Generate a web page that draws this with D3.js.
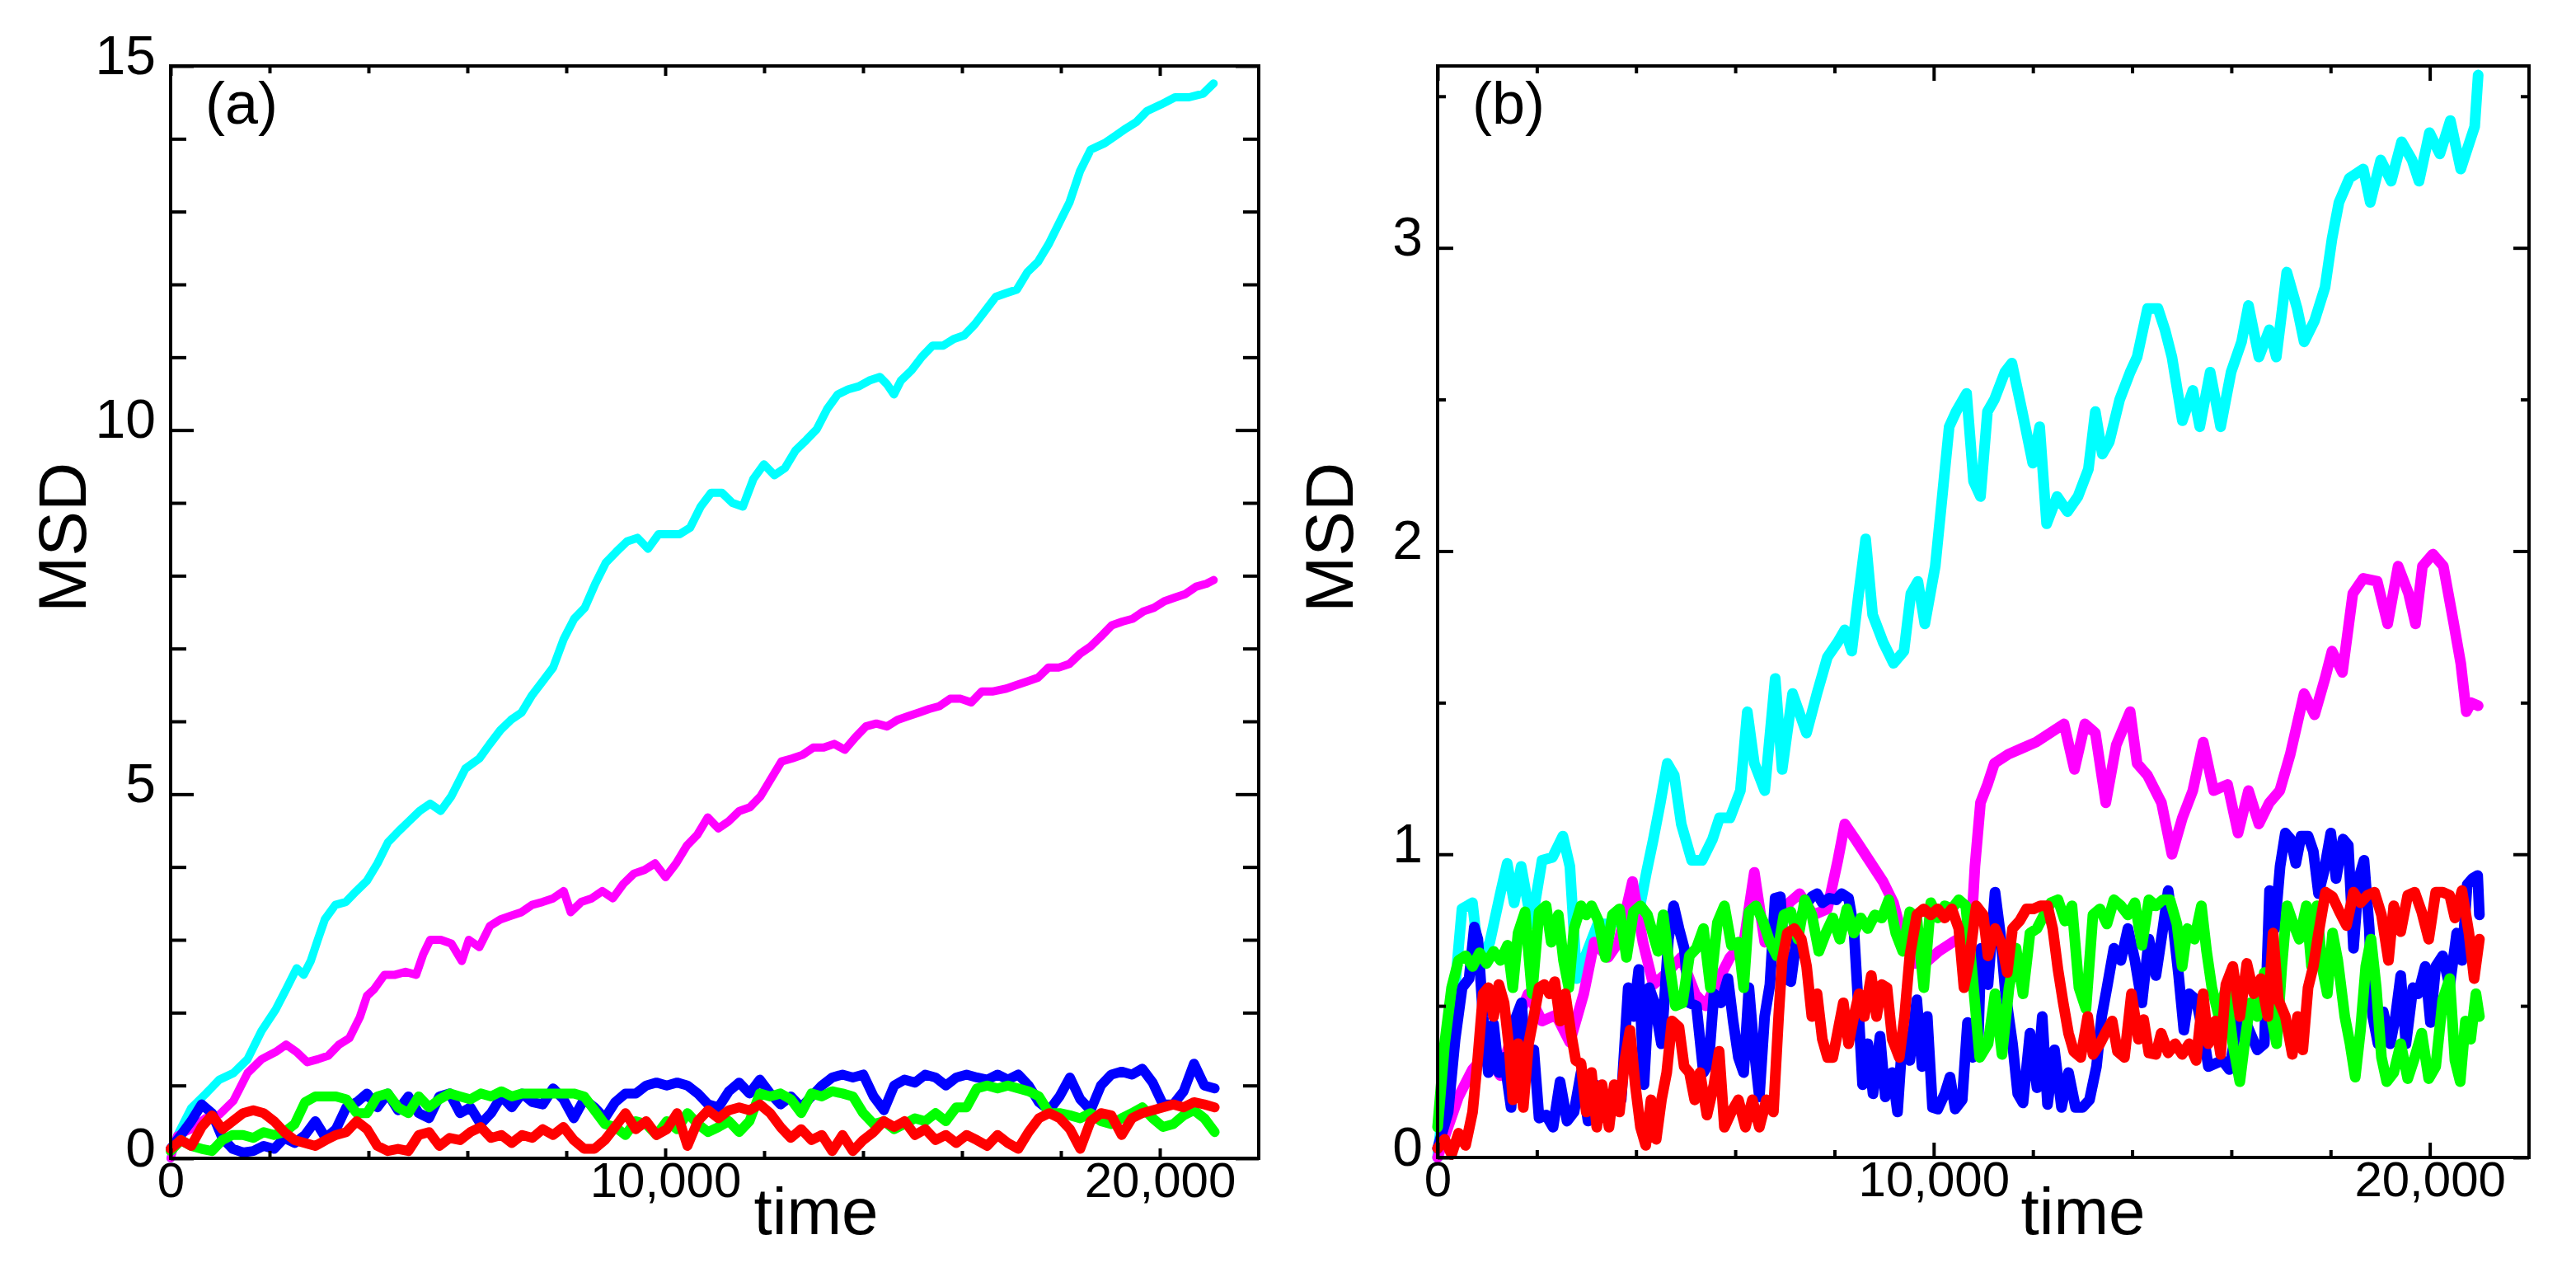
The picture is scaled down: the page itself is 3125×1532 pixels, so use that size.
<!DOCTYPE html>
<html><head><meta charset="utf-8">
<script src="https://cdn.jsdelivr.net/npm/d3@7"></script>
<style>html,body{margin:0;padding:0;background:#fff;} svg{display:block;}</style>
</head><body>
<svg id="chart" width="3125" height="1532"></svg>
<script>
// ---------------- DATA ----------------
const timeMax = 22000;
const timeTickLabels = [0, 10000, 20000];
const timeMinorTicks = [2000, 4000, 6000, 8000, 12000, 14000, 16000, 18000];
const msdTicksA = [0, 5, 10, 15];
const msdMinorA = [1, 2, 3, 4, 6, 7, 8, 9, 11, 12, 13, 14];
const msdTicksB = [0, 1, 2, 3];
const msdMinorB = [0.5, 1.5, 2.5, 3.5];
const panelLabels = ["(a)", "(b)"];
const xTitle = "time";
const yTitle = "MSD";
const seriesColors = ["#00ffff", "#ff00ff", "#0000ff", "#00ff00", "#ff0000"];

// panel (a): [time, MSD]
const aCyan = [[0,0],[133,0.31],[417,0.69],[701,0.88],[986,1.08],[1270,1.17],[1554,1.36],[1838,1.75],[2122,2.04],[2335,2.32],[2548,2.61],[2690,2.52],[2833,2.71],[2975,3.00],[3117,3.28],[3330,3.48],[3543,3.52],[3756,3.67],[3969,3.81],[4182,4.05],[4395,4.34],[4608,4.49],[4821,4.63],[5035,4.77],[5248,4.87],[5461,4.77],[5674,4.97],[5958,5.35],[6242,5.49],[6455,5.69],[6668,5.88],[6881,6.02],[7095,6.12],[7308,6.36],[7521,6.55],[7734,6.74],[7947,7.13],[8160,7.41],[8373,7.56],[8586,7.89],[8799,8.18],[9013,8.33],[9226,8.47],[9439,8.52],[9652,8.37],[9865,8.57],[10078,8.57],[10291,8.57],[10504,8.66],[10717,8.95],[10930,9.14],[11144,9.14],[11357,9.00],[11570,8.95],[11783,9.33],[11996,9.53],[12209,9.38],[12422,9.48],[12635,9.72],[12848,9.86],[13062,10.01],[13275,10.29],[13488,10.49],[13701,10.56],[13914,10.60],[14127,10.68],[14340,10.73],[14482,10.63],[14624,10.49],[14766,10.68],[14979,10.82],[15193,11.01],[15406,11.16],[15619,11.16],[15832,11.25],[16045,11.30],[16258,11.45],[16471,11.64],[16684,11.83],[16897,11.88],[17111,11.93],[17324,12.17],[17537,12.31],[17750,12.55],[17963,12.84],[18176,13.13],[18389,13.56],[18602,13.85],[18886,13.94],[19099,14.04],[19313,14.14],[19526,14.23],[19739,14.38],[20023,14.47],[20307,14.57],[20591,14.57],[20875,14.62],[21088,14.76]];
const aMagenta = [[0,0],[133,0.31],[417,0.40],[701,0.55],[986,0.60],[1270,0.79],[1554,1.17],[1838,1.36],[2122,1.46],[2335,1.56],[2548,1.46],[2761,1.32],[2975,1.36],[3188,1.41],[3401,1.56],[3614,1.65],[3827,1.94],[3969,2.23],[4111,2.32],[4324,2.52],[4537,2.52],[4750,2.56],[4964,2.52],[5106,2.80],[5248,3.00],[5461,3.00],[5674,2.95],[5887,2.71],[6029,3.00],[6242,2.90],[6455,3.19],[6668,3.28],[6881,3.33],[7095,3.38],[7308,3.48],[7521,3.52],[7734,3.57],[7947,3.67],[8089,3.38],[8302,3.52],[8515,3.57],[8728,3.67],[8941,3.57],[9155,3.77],[9368,3.91],[9581,3.96],[9794,4.05],[10007,3.86],[10220,4.05],[10433,4.29],[10646,4.44],[10859,4.68],[11073,4.53],[11286,4.63],[11499,4.77],[11712,4.82],[11925,4.97],[12138,5.21],[12351,5.45],[12564,5.49],[12777,5.54],[12991,5.64],[13204,5.64],[13417,5.69],[13630,5.61],[13843,5.78],[14056,5.93],[14269,5.97],[14482,5.93],[14695,6.02],[14909,6.07],[15122,6.12],[15335,6.17],[15548,6.21],[15761,6.31],[15974,6.31],[16187,6.26],[16400,6.41],[16613,6.41],[16897,6.45],[17111,6.50],[17324,6.55],[17537,6.60],[17750,6.74],[17963,6.74],[18176,6.79],[18389,6.93],[18602,7.03],[18815,7.17],[19029,7.32],[19242,7.37],[19455,7.41],[19668,7.51],[19881,7.56],[20094,7.65],[20307,7.70],[20520,7.75],[20733,7.85],[20946,7.89],[21088,7.94]];
// panel (a) low series, sampled at a regular interval
const aSampleStep = 209;
const aBlue = [0.13,0.32,0.51,0.74,0.62,0.28,0.13,0.08,0.10,0.17,0.13,0.28,0.21,0.32,0.51,0.28,0.40,0.70,0.77,0.89,0.70,0.89,0.66,0.85,0.62,0.55,0.85,0.89,0.62,0.70,0.47,0.62,0.85,0.70,0.89,0.77,0.74,0.96,0.81,0.55,0.81,0.70,0.55,0.77,0.89,0.89,1.00,1.04,1.00,1.04,1.00,0.89,0.74,0.70,0.92,1.04,0.89,1.08,0.89,0.74,0.85,0.70,0.85,1.00,1.11,1.15,1.11,1.15,0.85,0.66,1.00,1.08,1.04,1.15,1.11,1.00,1.11,1.15,1.11,1.08,1.15,1.08,1.15,1.00,0.77,0.66,0.85,1.11,0.81,0.66,1.00,1.15,1.19,1.15,1.23,1.04,0.74,0.74,0.92,1.30,1.00,0.96];
const aGreen = [0.10,0.25,0.17,0.13,0.10,0.25,0.32,0.32,0.28,0.36,0.32,0.36,0.47,0.77,0.85,0.85,0.85,0.81,0.62,0.62,0.85,0.89,0.70,0.62,0.85,0.70,0.81,0.89,0.85,0.81,0.89,0.85,0.92,0.85,0.89,0.89,0.89,0.89,0.89,0.89,0.85,0.66,0.47,0.43,0.32,0.51,0.47,0.32,0.51,0.40,0.62,0.47,0.36,0.43,0.51,0.36,0.51,0.89,0.85,0.89,0.81,0.62,0.89,0.85,0.92,0.89,0.85,0.62,0.47,0.51,0.40,0.47,0.55,0.51,0.62,0.51,0.70,0.70,0.96,1.00,0.96,1.00,0.96,0.92,0.85,0.62,0.62,0.59,0.55,0.62,0.51,0.47,0.55,0.62,0.70,0.55,0.43,0.47,0.59,0.66,0.55,0.36];
const aRed = [0.13,0.25,0.17,0.43,0.59,0.40,0.51,0.62,0.66,0.62,0.51,0.36,0.25,0.21,0.17,0.25,0.32,0.36,0.51,0.40,0.17,0.10,0.13,0.10,0.32,0.36,0.17,0.28,0.25,0.36,0.43,0.28,0.32,0.21,0.32,0.28,0.40,0.32,0.43,0.25,0.13,0.13,0.25,0.43,0.62,0.40,0.51,0.32,0.40,0.62,0.17,0.51,0.66,0.55,0.66,0.70,0.66,0.74,0.62,0.43,0.28,0.40,0.25,0.32,0.10,0.32,0.10,0.25,0.36,0.51,0.43,0.51,0.32,0.40,0.25,0.32,0.21,0.32,0.25,0.17,0.32,0.21,0.13,0.36,0.55,0.62,0.55,0.40,0.13,0.51,0.62,0.59,0.32,0.55,0.62,0.66,0.70,0.74,0.70,0.77,0.74,0.70];

// panel (b): [time, MSD]
const bCyan = [[0,0],[281,0.43],[491,0.82],[702,0.84],[842,0.64],[1052,0.71],[1263,0.87],[1403,0.97],[1543,0.84],[1684,0.96],[1894,0.77],[2105,0.98],[2315,0.99],[2525,1.06],[2666,0.96],[2806,0.59],[3016,0.68],[3227,0.77],[3508,0.77],[3788,0.80],[4069,0.82],[4209,0.94],[4349,1.05],[4490,1.17],[4630,1.30],[4770,1.26],[4911,1.10],[5121,0.98],[5331,0.98],[5542,1.05],[5682,1.12],[5893,1.12],[6103,1.21],[6243,1.47],[6384,1.30],[6594,1.21],[6805,1.58],[6945,1.28],[7155,1.53],[7436,1.40],[7646,1.53],[7857,1.65],[8067,1.70],[8208,1.74],[8348,1.67],[8488,1.86],[8628,2.04],[8769,1.79],[8979,1.70],[9190,1.63],[9400,1.67],[9540,1.86],[9681,1.90],[9821,1.76],[10031,1.95],[10172,2.18],[10312,2.41],[10452,2.46],[10663,2.52],[10803,2.23],[10943,2.18],[11084,2.46],[11224,2.50],[11434,2.59],[11575,2.62],[11785,2.46],[11996,2.29],[12136,2.41],[12276,2.09],[12487,2.18],[12697,2.13],[12908,2.18],[13118,2.27],[13258,2.46],[13399,2.32],[13539,2.36],[13749,2.50],[13960,2.59],[14100,2.64],[14311,2.80],[14521,2.80],[14661,2.73],[14802,2.64],[15012,2.43],[15223,2.53],[15363,2.41],[15573,2.59],[15784,2.41],[15994,2.59],[16205,2.69],[16345,2.81],[16555,2.64],[16766,2.73],[16906,2.64],[17117,2.92],[17327,2.80],[17467,2.69],[17678,2.76],[17888,2.87],[18029,3.03],[18169,3.15],[18379,3.23],[18660,3.26],[18800,3.15],[19011,3.29],[19221,3.22],[19432,3.35],[19642,3.29],[19782,3.22],[19993,3.38],[20203,3.31],[20414,3.42],[20624,3.26],[20764,3.33],[20905,3.40],[20975,3.57]];
const bMagenta = [[0,0],[421,0.20],[702,0.29],[982,0.34],[1263,0.27],[1543,0.43],[1824,0.54],[2105,0.45],[2385,0.47],[2666,0.38],[2946,0.54],[3157,0.71],[3437,0.66],[3648,0.71],[3928,0.91],[4139,0.71],[4349,0.57],[4630,0.61],[4911,0.66],[5191,0.54],[5402,0.50],[5612,0.57],[5893,0.66],[6173,0.71],[6384,0.94],[6594,0.71],[6875,0.75],[7085,0.84],[7296,0.87],[7576,0.80],[7857,0.82],[8067,0.98],[8208,1.10],[8418,1.05],[8699,0.98],[8979,0.91],[9190,0.84],[9400,0.71],[9611,0.64],[9821,0.64],[10102,0.68],[10382,0.71],[10593,0.73],[10775,0.80],[10831,0.96],[10943,1.17],[11084,1.23],[11224,1.30],[11505,1.33],[11785,1.35],[12066,1.37],[12346,1.40],[12627,1.43],[12837,1.28],[13048,1.43],[13258,1.40],[13469,1.17],[13679,1.36],[13960,1.47],[14100,1.30],[14311,1.26],[14591,1.17],[14802,1.00],[15012,1.12],[15223,1.21],[15433,1.37],[15643,1.21],[15924,1.23],[16135,1.07],[16345,1.21],[16555,1.10],[16766,1.17],[16976,1.21],[17187,1.33],[17467,1.53],[17678,1.46],[17888,1.58],[18029,1.67],[18239,1.60],[18449,1.86],[18660,1.91],[18941,1.90],[19151,1.76],[19361,1.95],[19572,1.86],[19712,1.76],[19852,1.95],[20063,1.99],[20273,1.95],[20484,1.76],[20624,1.63],[20736,1.47],[20835,1.50],[20975,1.49]];
const bBlue = [[0,0.03],[212,0.15],[353,0.39],[494,0.56],[635,0.59],[740,0.76],[811,0.72],[917,0.465],[1022,0.28],[1128,0.44],[1234,0.28],[1340,0.33],[1481,0.165],[1586,0.465],[1692,0.51],[1798,0.28],[1939,0.355],[2045,0.13],[2186,0.14],[2327,0.10],[2468,0.25],[2609,0.12],[2750,0.15],[2891,0.28],[3032,0.12],[3173,0.24],[3314,0.14],[3525,0.19],[3701,0.19],[3842,0.56],[3948,0.465],[4054,0.62],[4160,0.24],[4265,0.56],[4371,0.51],[4512,0.375],[4653,0.72],[4759,0.83],[4865,0.755],[4970,0.69],[5076,0.51],[5217,0.50],[5358,0.28],[5464,0.31],[5570,0.54],[5711,0.51],[5852,0.59],[5957,0.45],[6063,0.33],[6169,0.28],[6275,0.56],[6380,0.355],[6486,0.20],[6592,0.465],[6698,0.57],[6803,0.855],[6909,0.86],[7015,0.59],[7121,0.58],[7262,0.755],[7403,0.83],[7544,0.86],[7649,0.87],[7755,0.84],[7896,0.855],[8037,0.85],[8143,0.87],[8284,0.855],[8390,0.755],[8460,0.56],[8566,0.24],[8672,0.375],[8777,0.21],[8918,0.40],[9024,0.20],[9165,0.28],[9271,0.15],[9377,0.41],[9518,0.32],[9659,0.52],[9764,0.30],[9870,0.465],[9976,0.165],[10082,0.16],[10223,0.21],[10328,0.265],[10434,0.16],[10575,0.19],[10681,0.445],[10787,0.33],[10892,0.355],[10954,0.69],[11095,0.57],[11236,0.875],[11342,0.74],[11448,0.54],[11589,0.375],[11694,0.21],[11800,0.18],[11941,0.41],[12082,0.23],[12188,0.465],[12294,0.175],[12435,0.355],[12576,0.165],[12717,0.28],[12858,0.165],[12999,0.165],[13140,0.19],[13281,0.30],[13386,0.465],[13492,0.56],[13633,0.69],[13774,0.65],[13915,0.755],[14056,0.65],[14197,0.51],[14338,0.72],[14479,0.60],[14620,0.755],[14726,0.88],[14832,0.755],[14937,0.60],[15043,0.42],[15149,0.54],[15290,0.52],[15431,0.41],[15537,0.30],[15678,0.31],[15819,0.32],[15960,0.29],[16065,0.39],[16206,0.48],[16383,0.41],[16524,0.355],[16665,0.375],[16770,0.88],[16876,0.755],[16982,0.96],[17088,1.07],[17193,1.05],[17299,0.97],[17405,1.06],[17546,1.06],[17652,1.01],[17757,0.87],[17863,0.94],[18004,1.07],[18110,0.92],[18251,1.05],[18357,1.03],[18462,0.69],[18568,0.92],[18674,0.98],[18780,0.755],[18850,0.465],[18956,0.375],[19062,0.48],[19203,0.375],[19308,0.465],[19414,0.60],[19519,0.375],[19660,0.56],[19767,0.54],[19907,0.63],[20013,0.445],[20119,0.63],[20260,0.665],[20401,0.565],[20542,0.74],[20648,0.65],[20754,0.90],[20859,0.92],[20965,0.93],[21000,0.80]];
const bGreen = [[0,0.10],[141,0.375],[282,0.56],[423,0.65],[564,0.665],[705,0.63],[846,0.675],[987,0.64],[1128,0.68],[1269,0.65],[1410,0.70],[1516,0.56],[1622,0.74],[1763,0.81],[1904,0.54],[2045,0.81],[2186,0.83],[2291,0.71],[2432,0.80],[2538,0.65],[2644,0.56],[2750,0.755],[2891,0.83],[2996,0.80],[3102,0.83],[3243,0.78],[3384,0.66],[3525,0.80],[3666,0.82],[3807,0.66],[3948,0.81],[4089,0.83],[4230,0.80],[4336,0.74],[4442,0.68],[4547,0.80],[4653,0.66],[4794,0.50],[4935,0.51],[5076,0.665],[5217,0.69],[5358,0.755],[5499,0.56],[5640,0.775],[5781,0.83],[5922,0.70],[6063,0.71],[6169,0.56],[6275,0.81],[6416,0.83],[6557,0.78],[6698,0.71],[6839,0.665],[6980,0.80],[7121,0.81],[7262,0.72],[7403,0.85],[7544,0.80],[7685,0.68],[7826,0.74],[7967,0.79],[8108,0.72],[8249,0.82],[8390,0.74],[8531,0.79],[8672,0.755],[8813,0.80],[8954,0.79],[9095,0.85],[9236,0.74],[9377,0.68],[9518,0.81],[9659,0.79],[9800,0.56],[9941,0.84],[10082,0.79],[10223,0.83],[10364,0.82],[10505,0.85],[10646,0.83],[10787,0.59],[10928,0.33],[11095,0.375],[11236,0.54],[11377,0.34],[11518,0.56],[11659,0.69],[11800,0.54],[11941,0.74],[12082,0.755],[12223,0.80],[12364,0.84],[12505,0.85],[12646,0.78],[12787,0.83],[12928,0.56],[13069,0.49],[13210,0.80],[13351,0.82],[13492,0.77],[13633,0.85],[13774,0.83],[13915,0.80],[14056,0.84],[14197,0.70],[14338,0.85],[14479,0.83],[14620,0.85],[14761,0.85],[14902,0.77],[15008,0.63],[15114,0.755],[15255,0.72],[15396,0.83],[15501,0.68],[15607,0.56],[15748,0.465],[15889,0.56],[16030,0.375],[16171,0.25],[16277,0.39],[16383,0.51],[16524,0.465],[16665,0.61],[16806,0.465],[16911,0.375],[17017,0.63],[17123,0.83],[17229,0.78],[17370,0.72],[17511,0.83],[17616,0.63],[17722,0.83],[17828,0.63],[17934,0.54],[18040,0.74],[18145,0.65],[18286,0.465],[18392,0.375],[18497,0.265],[18603,0.42],[18709,0.63],[18815,0.72],[18921,0.56],[19026,0.33],[19132,0.25],[19273,0.28],[19414,0.375],[19555,0.26],[19696,0.33],[19837,0.41],[19978,0.26],[20119,0.30],[20260,0.52],[20401,0.59],[20507,0.32],[20613,0.25],[20718,0.45],[20824,0.39],[20930,0.54],[21000,0.465]];
const bRed = [[0,0.03],[141,0.06],[282,0.01],[423,0.08],[564,0.04],[705,0.15],[811,0.33],[917,0.54],[1022,0.56],[1128,0.465],[1234,0.57],[1340,0.51],[1445,0.355],[1516,0.19],[1622,0.375],[1727,0.165],[1833,0.375],[1939,0.465],[2045,0.56],[2150,0.57],[2256,0.54],[2362,0.58],[2468,0.45],[2573,0.54],[2679,0.42],[2785,0.32],[2891,0.31],[2996,0.15],[3102,0.28],[3208,0.10],[3314,0.24],[3455,0.10],[3560,0.24],[3666,0.15],[3772,0.32],[3878,0.42],[3983,0.24],[4089,0.10],[4195,0.04],[4301,0.19],[4406,0.06],[4512,0.19],[4618,0.28],[4724,0.45],[4865,0.43],[4970,0.30],[5076,0.28],[5182,0.19],[5288,0.28],[5429,0.14],[5570,0.24],[5675,0.35],[5781,0.10],[5922,0.15],[6063,0.19],[6204,0.10],[6345,0.19],[6486,0.10],[6627,0.19],[6768,0.15],[6874,0.465],[6944,0.65],[7050,0.74],[7191,0.755],[7332,0.72],[7438,0.63],[7544,0.465],[7649,0.54],[7755,0.39],[7861,0.33],[7967,0.33],[8072,0.42],[8178,0.51],[8284,0.375],[8390,0.465],[8495,0.54],[8601,0.465],[8742,0.60],[8848,0.465],[8954,0.57],[9059,0.56],[9165,0.39],[9306,0.33],[9412,0.465],[9518,0.665],[9659,0.80],[9800,0.82],[9941,0.80],[10082,0.82],[10223,0.79],[10364,0.82],[10505,0.755],[10610,0.56],[10716,0.65],[10857,0.83],[10998,0.80],[11095,0.665],[11236,0.755],[11377,0.70],[11483,0.61],[11589,0.755],[11730,0.78],[11871,0.82],[12012,0.82],[12153,0.83],[12294,0.83],[12399,0.755],[12505,0.62],[12611,0.51],[12717,0.41],[12822,0.35],[12963,0.33],[13104,0.465],[13210,0.34],[13351,0.375],[13492,0.42],[13598,0.45],[13704,0.35],[13845,0.33],[13986,0.54],[14127,0.39],[14232,0.455],[14338,0.345],[14479,0.34],[14585,0.41],[14726,0.345],[14867,0.375],[15008,0.34],[15149,0.375],[15290,0.32],[15431,0.54],[15537,0.375],[15678,0.45],[15783,0.34],[15889,0.57],[16030,0.63],[16171,0.465],[16312,0.64],[16453,0.54],[16594,0.59],[16735,0.465],[16841,0.74],[16947,0.52],[17088,0.465],[17229,0.34],[17334,0.465],[17440,0.355],[17546,0.56],[17652,0.63],[17757,0.74],[17898,0.875],[18039,0.86],[18180,0.81],[18321,0.765],[18462,0.875],[18603,0.84],[18744,0.865],[18885,0.875],[19026,0.80],[19167,0.65],[19273,0.83],[19414,0.745],[19555,0.865],[19696,0.875],[19837,0.81],[19978,0.72],[20119,0.875],[20260,0.875],[20401,0.865],[20507,0.79],[20648,0.88],[20789,0.74],[20894,0.59],[21000,0.72]];

// ---------------- DRAWING ----------------
const svg = d3.select('#chart');
svg.append('rect').attr('width', 3125).attr('height', 1532).attr('fill', '#fff');
const FONT = '"Liberation Sans", Arial, Helvetica, sans-serif';

const toPairs = (vals, step) => vals.map((v, i) => [i * step, v]);

const panels = [
  { label: panelLabels[0], left: 207, right: 1527, top: 80, bottom: 1405, yMax: 15,
    yTicks: msdTicksA, yMinor: msdMinorA, yMajLen: 28, yMinLen: 19, xMajLen: 12, xMinLen: 9,
    series: [aCyan, aMagenta, toPairs(aBlue, aSampleStep), toPairs(aGreen, aSampleStep), toPairs(aRed, aSampleStep)],
    widths: [10, 10, 12, 12, 12] },
  { label: panelLabels[1], left: 1744, right: 3068, top: 80, bottom: 1404, yMax: 3.6,
    yTicks: msdTicksB, yMinor: msdMinorB, yMajLen: 19, yMinLen: 10, xMajLen: 18, xMinLen: 9,
    series: [bCyan, bMagenta, bBlue, bGreen, bRed],
    widths: [13, 13, 13, 13, 13] }
];

function styleAxis(sel, fs) {
  sel.select('.domain').remove();
  sel.attr('font-family', FONT).attr('font-size', fs);
  sel.selectAll('line').attr('stroke', '#000').attr('stroke-width', 4);
  sel.selectAll('text').attr('fill', '#000');
}

panels.forEach(p => {
  const g = svg.append('g');
  const x = d3.scaleLinear().domain([0, timeMax]).range([p.left, p.right]);
  const y = d3.scaleLinear().domain([0, p.yMax]).range([p.bottom, p.top]);
  const line = d3.line().x(d => x(d[0])).y(d => y(d[1]));

  p.series.forEach((s, i) => {
    g.append('path').datum(s).attr('d', line)
      .attr('fill', 'none').attr('stroke', seriesColors[i])
      .attr('stroke-width', p.widths[i])
      .attr('stroke-linejoin', 'round').attr('stroke-linecap', 'round');
  });

  // frame
  g.append('rect').attr('x', p.left).attr('y', p.top)
    .attr('width', p.right - p.left).attr('height', p.bottom - p.top)
    .attr('fill', 'none').attr('stroke', '#000').attr('stroke-width', 4);

  // bottom axis
  const gb = g.append('g').attr('transform', `translate(0,${p.bottom})`);
  gb.call(d3.axisBottom(x).tickValues(timeTickLabels).tickSizeInner(-p.xMajLen).tickSizeOuter(0)
      .tickPadding(4).tickFormat(d3.format(',')))
    .call(s => styleAxis(s, 60));
  gb.append('g').call(d3.axisBottom(x).tickValues(timeMinorTicks).tickSizeInner(-p.xMinLen).tickSizeOuter(0).tickFormat(''))
    .call(s => styleAxis(s, 60));
  // top axis (mirrored ticks)
  const gt = g.append('g').attr('transform', `translate(0,${p.top})`);
  gt.call(d3.axisTop(x).tickValues(timeTickLabels).tickSizeInner(-p.xMajLen).tickSizeOuter(0).tickFormat(''))
    .call(s => styleAxis(s, 60));
  gt.append('g').call(d3.axisTop(x).tickValues(timeMinorTicks).tickSizeInner(-p.xMinLen).tickSizeOuter(0).tickFormat(''))
    .call(s => styleAxis(s, 60));

  // left axis
  const gl = g.append('g').attr('transform', `translate(${p.left},0)`);
  gl.call(d3.axisLeft(y).tickValues(p.yTicks).tickSizeInner(-p.yMajLen).tickSizeOuter(0).tickPadding(18).tickFormat(d3.format('d')))
    .call(s => styleAxis(s, 66))
    .call(s => s.selectAll('text').attr('y', -12));
  gl.append('g').call(d3.axisLeft(y).tickValues(p.yMinor).tickSizeInner(-p.yMinLen).tickSizeOuter(0).tickFormat(''))
    .call(s => styleAxis(s, 66));
  // right axis (mirrored)
  const gr = g.append('g').attr('transform', `translate(${p.right},0)`);
  gr.call(d3.axisRight(y).tickValues(p.yTicks).tickSizeInner(-p.yMajLen).tickSizeOuter(0).tickFormat(''))
    .call(s => styleAxis(s, 66));
  gr.append('g').call(d3.axisRight(y).tickValues(p.yMinor).tickSizeInner(-p.yMinLen).tickSizeOuter(0).tickFormat(''))
    .call(s => styleAxis(s, 66));

  // panel label
  g.append('text').attr('x', p.left + 42).attr('y', 150)
    .attr('font-family', FONT).attr('font-size', 72).attr('fill', '#000').text(p.label);

  // axis titles
  g.append('text').attr('x', p.left + 783).attr('y', 1497)
    .attr('text-anchor', 'middle').attr('font-family', FONT).attr('font-size', 80)
    .attr('fill', '#000').text(xTitle);
  g.append('text').attr('transform', `translate(${p.left - 103},652) rotate(-90)`)
    .attr('text-anchor', 'middle').attr('font-family', FONT).attr('font-size', 82)
    .attr('fill', '#000').text(yTitle);
});
</script>
</body></html>
